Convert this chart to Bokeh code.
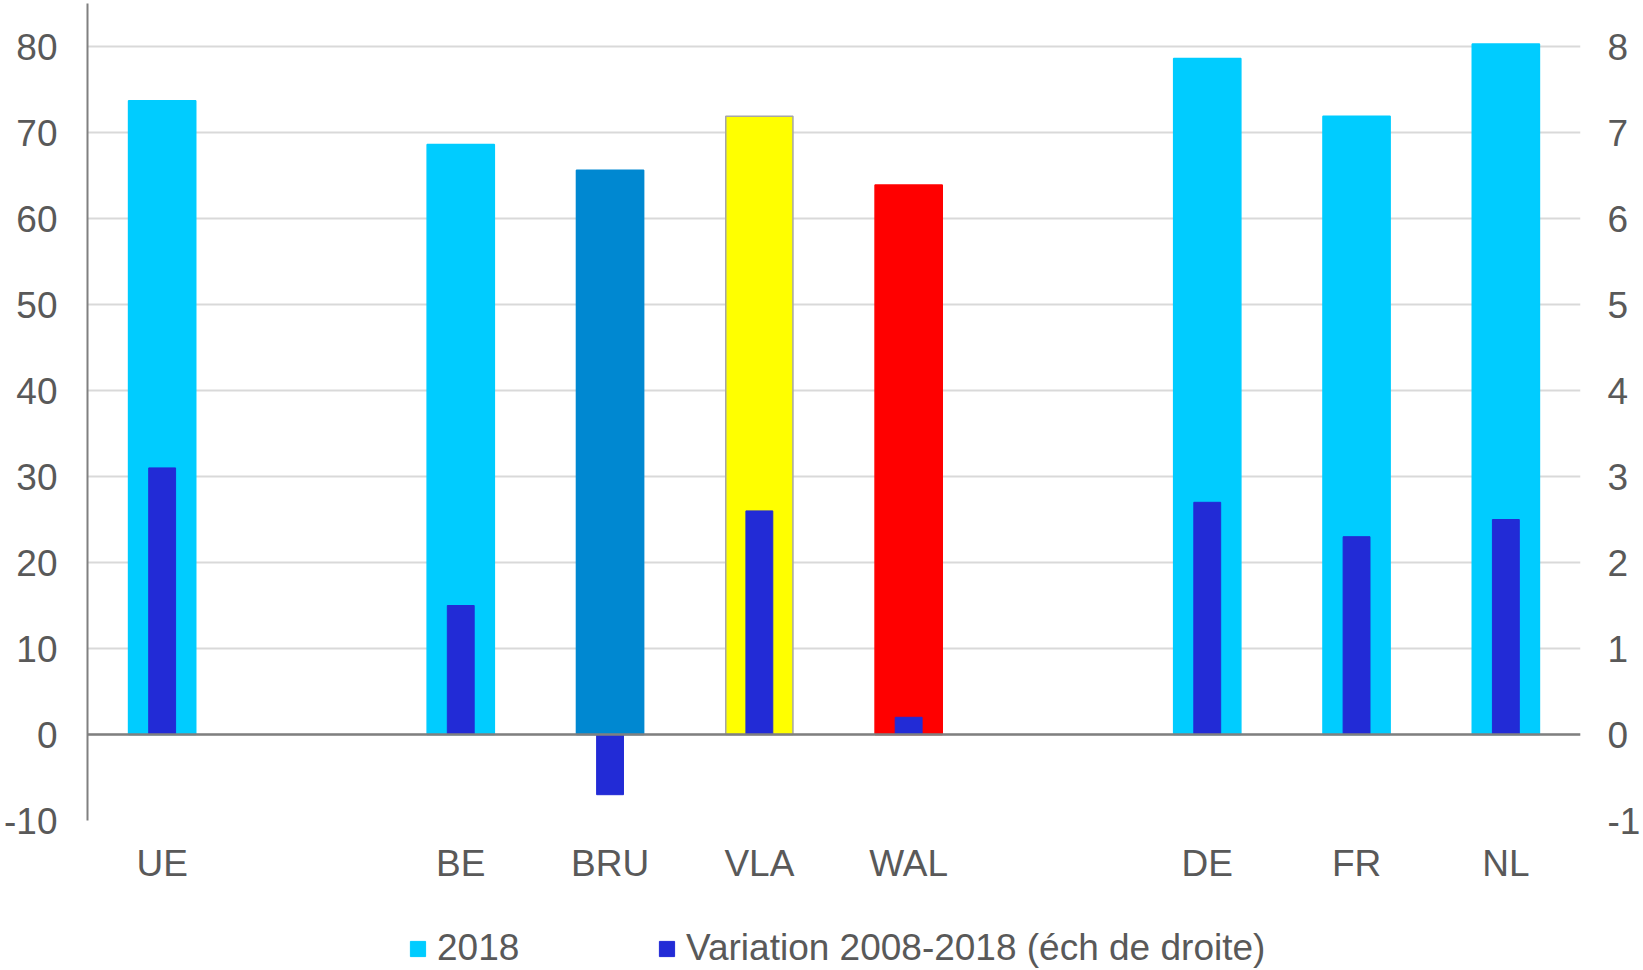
from bokeh.plotting import figure
from bokeh.layouts import column
from bokeh.models import (FactorRange, Range1d, LinearAxis, FixedTicker, Span, Legend,
                          LegendItem, ColumnDataSource)
from bokeh.embed import file_html
from bokeh.resources import INLINE

# ---- data ----
categories = ["UE", " ", "BE", "BRU", "VLA", "WAL", "  ", "DE", "FR", "NL"]
bar_categories = ["UE", "BE", "BRU", "VLA", "WAL", "DE", "FR", "NL"]
rate_2018 = [73.7, 68.6, 65.6, 71.9, 63.9, 78.6, 71.9, 80.3]
variation_2008_2018 = [3.1, 1.5, -0.7, 2.6, 0.2, 2.7, 2.3, 2.5]
left_ticks = [-10, 0, 10, 20, 30, 40, 50, 60, 70, 80]
right_ticks = [-1, 0, 1, 2, 3, 4, 5, 6, 7, 8]
series_names = ["2018", "Variation 2008-2018 (éch de droite)"]

# ---- styles ----
main_color = "#00CCFF"
bar_fill = ["#00CCFF", "#00CCFF", "#0088D1", "#FFFF00", "#FF0000", "#00CCFF", "#00CCFF", "#00CCFF"]
bar_line = ["#00CCFF", "#00CCFF", "#0088D1", "#A6A6A6", "#FF0000", "#00CCFF", "#00CCFF", "#00CCFF"]
var_color = "#222BD6"
text_color = "#595959"
font = "Liberation Sans"
fs = "37px"

src_main = ColumnDataSource(dict(x=bar_categories, top=rate_2018, fill=bar_fill, line=bar_line))
src_var = ColumnDataSource(dict(x=bar_categories, top=variation_2008_2018))

p = figure(
    x_range=FactorRange(*categories),
    y_range=Range1d(-10, 85),
    frame_width=1493, frame_height=817,
    output_backend="svg", toolbar_location=None,
    min_border_left=87, min_border_right=63, min_border_top=3, min_border_bottom=78,
)
p.extra_y_ranges = {"right": Range1d(-1, 8.5)}
p.outline_line_color = None
p.background_fill_color = "white"
p.border_fill_color = "white"

p.vbar(x="x", top="top", bottom=0, width=0.45, source=src_main,
       fill_color="fill", line_color="line", line_width=1.5)
p.vbar(x="x", top="top", bottom=0, width=0.18, source=src_var,
       fill_color=var_color, line_color=var_color, line_width=1, y_range_name="right")

p.add_layout(Span(location=0, dimension="width", line_color="#808080", line_width=2.5))

# grid
p.xgrid.grid_line_color = None
p.ygrid.grid_line_color = "#D9D9D9"
p.ygrid.grid_line_width = 2
p.ygrid.ticker = FixedTicker(ticks=left_ticks)

# left axis
ya = p.yaxis[0]
ya.ticker = FixedTicker(ticks=left_ticks)
ya.major_label_overrides = {t: str(t) for t in left_ticks}
ya.axis_line_color = "#808080"
ya.axis_line_width = 2
ya.major_tick_line_color = None
ya.minor_tick_line_color = None
ya.major_label_text_font = font
ya.major_label_text_font_size = fs
ya.major_label_text_color = text_color
ya.major_label_standoff = 24

# right axis
ra = LinearAxis(y_range_name="right", ticker=FixedTicker(ticks=right_ticks))
ra.major_label_overrides = {t: str(t) for t in right_ticks}
ra.axis_line_color = None
ra.major_tick_line_color = None
ra.minor_tick_line_color = None
ra.major_label_text_font = font
ra.major_label_text_font_size = fs
ra.major_label_text_color = text_color
ra.major_label_standoff = 21
p.add_layout(ra, "right")

# x axis
xa = p.xaxis[0]
xa.axis_line_color = None
xa.major_tick_line_color = None
xa.minor_tick_line_color = None
xa.major_label_text_font = font
xa.major_label_text_font_size = fs
xa.major_label_text_color = text_color
xa.major_label_standoff = 16

# ---- legend strip (separate figure so the legend sits inside a frame) ----
# the two series are drawn again there, outside its visible y window, only to give the legend its swatches
lg = figure(width=1643, height=72, output_backend="svg", toolbar_location=None,
            x_range=FactorRange(*categories), y_range=Range1d(1000, 1001),
            min_border_left=0, min_border_right=0, min_border_top=0, min_border_bottom=0)
lg.axis.visible = False
lg.grid.grid_line_color = None
lg.outline_line_color = None
lg.background_fill_color = "white"
r1 = lg.vbar(x="x", top="top", width=0.45, source=src_main, fill_color=main_color, line_color=main_color)
r2 = lg.vbar(x="x", top="top", width=0.18, source=src_var, fill_color=var_color, line_color=var_color)
legend = Legend(
    items=[LegendItem(label=series_names[0], renderers=[r1]),
           LegendItem(label=series_names[1], renderers=[r2])],
    orientation="horizontal", location=(321, 1),
    glyph_width=19, glyph_height=19, label_standoff=10, spacing=0, label_width=220,
    label_text_font=font, label_text_font_size=fs, label_text_color=text_color,
    border_line_color=None, background_fill_alpha=0, padding=0, margin=0,
)
lg.add_layout(legend, "center")

open("out.html", "w").write(file_html(column(p, lg), INLINE))
